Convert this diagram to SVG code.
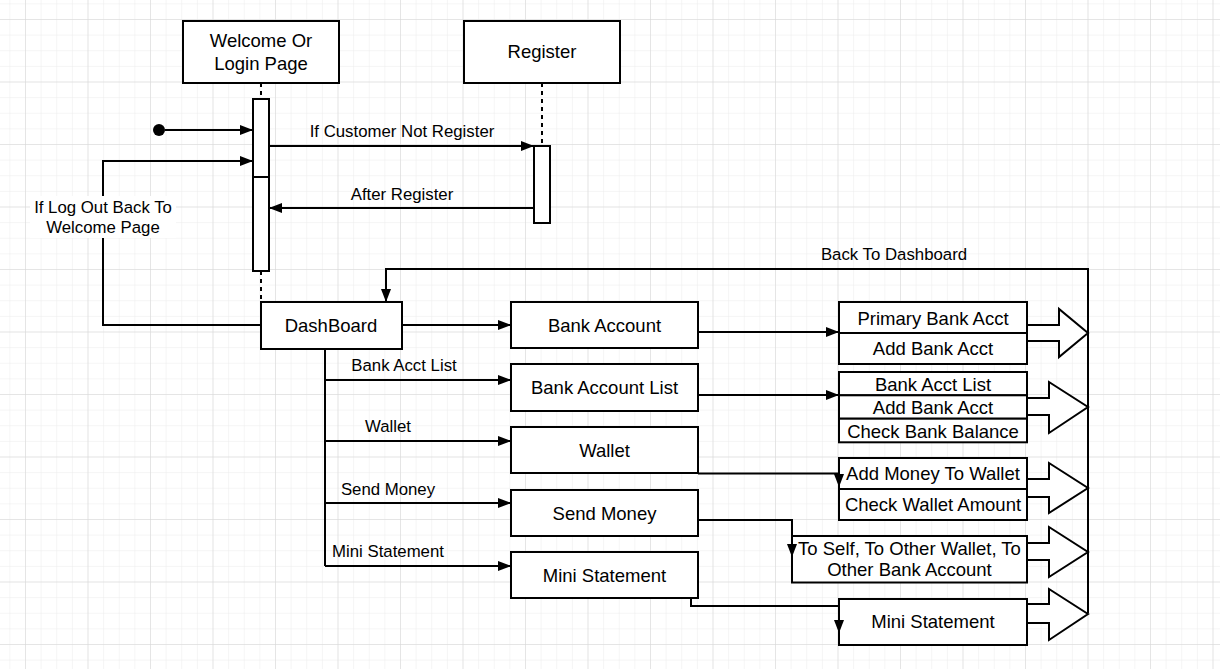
<svg xmlns="http://www.w3.org/2000/svg" width="1220" height="669" viewBox="0 0 1220 669">
<style>
.box{fill:#fff;stroke:#000;stroke-width:2}
.ln{fill:none;stroke:#000;stroke-width:2}
.dash{fill:none;stroke:#000;stroke-width:2;stroke-dasharray:4 4}
.nt{font-family:"Liberation Sans",Arial,sans-serif;font-size:18.5px;fill:#000;text-anchor:middle}
.et{font-family:"Liberation Sans",Arial,sans-serif;font-size:16.8px;fill:#000;text-anchor:middle}
.blk{fill:#fff;stroke:#000;stroke-width:2;stroke-linejoin:miter}
</style>
<defs>
<pattern id="minor" width="15.625" height="15.625" patternUnits="userSpaceOnUse" x="25" y="19">
<path d="M0,0 H15.625 M0,0 V15.625" fill="none" stroke="#ececec" stroke-width="1"/>
</pattern>
<pattern id="major" width="62.5" height="62.5" patternUnits="userSpaceOnUse" x="25" y="19">
<path d="M0,0 H62.5 M0,0 V62.5" fill="none" stroke="#d6d6d6" stroke-width="1"/>
</pattern>
<marker id="arr" markerUnits="userSpaceOnUse" markerWidth="14" markerHeight="12" refX="13" refY="5" orient="auto">
<path d="M0,0 L13,5 L0,10 Z" fill="#000"/>
</marker>
</defs>
<rect width="1220" height="669" fill="#fff"/>
<rect width="1220" height="669" fill="url(#minor)"/>
<rect width="1220" height="669" fill="url(#major)"/>

<g id="welcome">
<rect class="box" x="183" y="21" width="156" height="62"/>
<text class="nt" x="261" y="47">Welcome Or</text>
<text class="nt" x="261" y="70">Login Page</text>
</g>
<g id="welcome-activation">
<rect class="box" x="253" y="99" width="16" height="78"/>
<rect class="box" x="253" y="177" width="16" height="94"/>
</g>
<g id="register">
<rect class="box" x="464" y="21" width="156" height="62"/>
<text class="nt" x="542" y="58">Register</text>
</g>
<g id="register-activation">
<rect class="box" x="534" y="146" width="16" height="77"/>
</g>
<g id="dashboard">
<rect class="box" x="261" y="302" width="141" height="47"/>
<text class="nt" x="331" y="332">DashBoard</text>
</g>
<g id="bank-account">
<rect class="box" x="511" y="302" width="187" height="46"/>
<text class="nt" x="604.5" y="332">Bank Account</text>
</g>
<g id="bank-account-list">
<rect class="box" x="511" y="364" width="187" height="47"/>
<text class="nt" x="604.5" y="394">Bank Account List</text>
</g>
<g id="wallet">
<rect class="box" x="511" y="427" width="187" height="46"/>
<text class="nt" x="604.5" y="457">Wallet</text>
</g>
<g id="send-money">
<rect class="box" x="511" y="490" width="187" height="46"/>
<text class="nt" x="604.5" y="520">Send Money</text>
</g>
<g id="mini-statement">
<rect class="box" x="511" y="552" width="187" height="46"/>
<text class="nt" x="604.5" y="582">Mini Statement</text>
</g>

<g id="bank-options">
<polygon class="blk" points="1027,325 1059,325 1059,309 1088,333 1059,357 1059,341 1027,341"/>
<rect class="box" x="839" y="302" width="188" height="31"/>
<rect class="box" x="839" y="333" width="188" height="31"/>
<text class="nt" x="933" y="325">Primary Bank Acct</text>
<text class="nt" x="933" y="355">Add Bank Acct</text>
</g>
<g id="list-options">
<polygon class="blk" points="1027,398 1049,398 1049,382 1088,407 1049,433 1049,415 1027,415"/>
<rect class="box" x="839" y="372" width="188" height="23.3"/>
<rect class="box" x="839" y="395.3" width="188" height="23.4"/>
<rect class="box" x="839" y="418.7" width="188" height="23.6"/>
<text class="nt" x="933" y="391">Bank Acct List</text>
<text class="nt" x="933" y="414">Add Bank Acct</text>
<text class="nt" x="933" y="437.5">Check Bank Balance</text>
</g>
<g id="wallet-options">
<polygon class="blk" points="1027,479 1049,479 1049,463 1088,488 1049,513 1049,497 1027,497"/>
<rect class="box" x="839" y="458" width="188" height="31"/>
<rect class="box" x="839" y="489" width="188" height="31"/>
<text class="nt" x="933" y="480">Add Money To Wallet</text>
<text class="nt" x="933" y="511">Check Wallet Amount</text>
</g>
<g id="send-options">
<polygon class="blk" points="1027,543 1049,543 1049,527 1088,552 1049,577 1049,560 1027,560"/>
<rect class="box" x="792" y="536" width="235" height="46.5"/>
<text class="nt" x="909.5" y="554.5">To Self, To Other Wallet, To</text>
<text class="nt" x="909.5" y="576">Other Bank Account</text>
</g>
<g id="statement-options">
<polygon class="blk" points="1027,604 1049,604 1049,589 1088,614 1049,640 1049,623 1027,623"/>
<rect class="box" x="839" y="599" width="188" height="46"/>
<text class="nt" x="933" y="628">Mini Statement</text>
</g>

<g id="connectors">
<path class="dash" d="M261,83 V99"/>
<path class="dash" d="M261,271 V302"/>
<path class="dash" d="M542,83 V146"/>
<circle cx="159" cy="130" r="6" fill="#000"/>
<path class="ln" d="M165,130 H253" marker-end="url(#arr)"/>
<path class="ln" d="M261,325 H103 V161 H253" marker-end="url(#arr)"/>
<path class="ln" d="M269,146 H534" marker-end="url(#arr)"/>
<path class="ln" d="M534,208 H269" marker-end="url(#arr)"/>
<path class="ln" d="M1088,613 V269 H386 V302" marker-end="url(#arr)"/>
<path class="ln" d="M402,325 H511" marker-end="url(#arr)"/>
<path class="ln" d="M325,349 V566"/>
<path class="ln" d="M325,380 H511" marker-end="url(#arr)"/>
<path class="ln" d="M325,441 H511" marker-end="url(#arr)"/>
<path class="ln" d="M325,503 H511" marker-end="url(#arr)"/>
<path class="ln" d="M325,566 H511" marker-end="url(#arr)"/>
<path class="ln" d="M698,332 H839" marker-end="url(#arr)"/>
<path class="ln" d="M698,395 H839" marker-end="url(#arr)"/>
<path class="ln" d="M698,473.5 H839 V487" marker-end="url(#arr)"/>
<path class="ln" d="M698,520 H792 V557" marker-end="url(#arr)"/>
<path class="ln" d="M691,598 V606 H839 V633" marker-end="url(#arr)"/>
<rect x="30" y="196" width="146" height="42" fill="#fff"/>
<text class="et" x="103" y="213">If Log Out Back To</text>
<text class="et" x="103" y="233">Welcome Page</text>
<text class="et" x="402" y="137">If Customer Not Register</text>
<text class="et" x="402" y="200">After Register</text>
<text class="et" x="894" y="260">Back To Dashboard</text>
<text class="et" x="404" y="371">Bank Acct List</text>
<text class="et" x="388" y="432">Wallet</text>
<text class="et" x="388" y="495">Send Money</text>
<text class="et" x="388" y="557">Mini Statement</text>
</g>
</svg>
